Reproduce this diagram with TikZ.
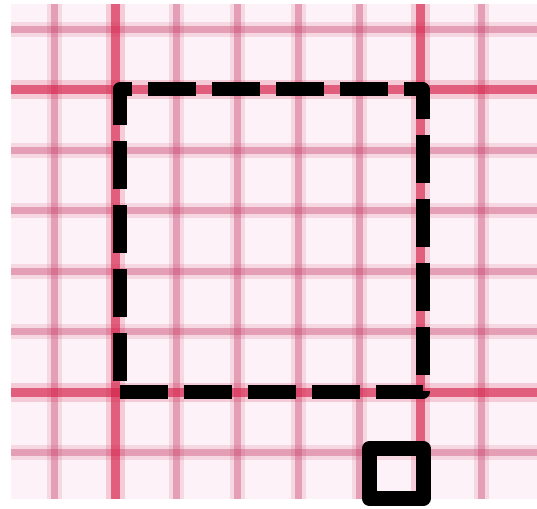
\documentclass[tikz,border=0pt]{standalone}
\usepackage{tikz}
\usetikzlibrary{positioning}
\definecolor{paperbg}{RGB}{253,242,247}
\definecolor{gridpink}{RGB}{200,60,105}
\definecolor{gridred}{RGB}{214,30,70}

\begin{document}
\begin{tikzpicture}[
  x=1pt, y=-1pt,
  minorhalo/.style={draw=gridpink, line width=15pt, opacity=0.14},
  minorline/.style={draw=gridpink, line width=7pt, opacity=0.36},
  majorhalo/.style={draw=gridred, line width=19pt, opacity=0.18},
  majorline/.style={draw=gridred, line width=9pt, opacity=0.62},
  cutline/.style={draw=black, line width=14pt, dash pattern=on 48pt off 16pt, line join=round},
  keybox/.style={draw=black, line width=15pt, line join=round}
]
% Picture is laid out in pixel units (y grows downward) so the paper,
% the grid pitch (61 x 60.4) and the dashed frame can be read straight
% off the reference; each grid line gets a faint wide halo to soften it.
\useasboundingbox (0,0) rectangle (537,508);
\fill[paperbg] (11,4) rectangle (537,499);
\begin{scope}
  \clip (11,4) rectangle (537,499);
  \foreach \gx in {54,176,237,298,359,481} {
    \draw[minorhalo] (\gx,4) -- (\gx,499);
    \draw[minorline] (\gx,4) -- (\gx,499);
  }
  \foreach \gy in {29.6,150.4,210.8,271.2,331.6,452.4} {
    \draw[minorhalo] (11,\gy) -- (537,\gy);
    \draw[minorline] (11,\gy) -- (537,\gy);
  }
  \foreach \gx in {115,420} {
    \draw[majorhalo] (\gx,4) -- (\gx,499);
    \draw[majorline] (\gx,4) -- (\gx,499);
  }
  \foreach \gy in {90,392} {
    \draw[majorhalo] (11,\gy) -- (537,\gy);
    \draw[majorline] (11,\gy) -- (537,\gy);
  }
\end{scope}

% dashed frame, path starts bottom left so the dashes fall as in the photo
\coordinate (framebl) at (119.5,392);
\coordinate (framebr) at (422.5,392);
\coordinate (frametr) at (422.5,89.5);
\coordinate (frametl) at (119.5,89.5);
\draw[cutline] (framebl) -- (framebr) -- (frametr) -- (frametl) -- cycle;

% small solid square below the frame's right edge
\coordinate (keytl) at (369.5,448.5);
\coordinate (keybr) at (423,498.5);
\draw[keybox] (keytl) rectangle (keybr);
\end{tikzpicture}
\end{document}
